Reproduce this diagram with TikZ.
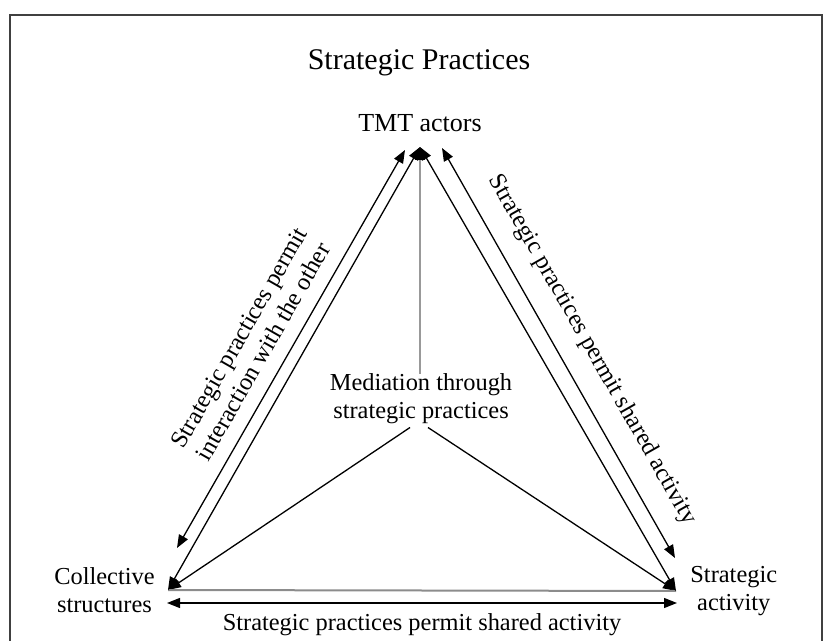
\documentclass[tikz,border=0pt]{standalone}
\usepackage{fontspec}
\setmainfont{Liberation Serif}
\usetikzlibrary{arrows.meta}
\usetikzlibrary{positioning}
\tikzstyle{frame}=[line width=0.75pt, black!75]
\tikzstyle{heading}=[font=\fontsize{15}{18}\selectfont, inner sep=0pt]
\tikzstyle{actor}=[font=\fontsize{12.2}{14}\selectfont, inner sep=0pt, align=center]
\tikzstyle{along label}=[actor, sloped]
\tikzstyle{link}=[line width=0.65pt, <->]
\tikzstyle{mediation link}=[line width=0.65pt, ->]
\tikzstyle{gray link}=[line width=1pt, black!40, -{Triangle[length=6.5pt, width=5pt, color=black]}]
\tikzstyle{base link}=[line width=1pt, black!45]

\begin{document}
\begin{tikzpicture}[x=0.5pt, y=-0.5pt, >={Triangle[length=6.5pt, width=5pt]}]
  \useasboundingbox (0,0) rectangle (830,641);
  \draw[frame] (10,15) rectangle (822,680);

  \coordinate (apex) at (420,147);
  \coordinate (left corner) at (168,590);
  \coordinate (right corner) at (676,591);
  \coordinate (left outer bottom) at (177,548);
  \coordinate (left outer top) at (405,150);
  \coordinate (right outer top) at (442,148);
  \coordinate (right outer bottom) at (675,558);
  \coordinate (base outer left) at (167,603);
  \coordinate (base outer right) at (677,603);

  \node[heading] (title) at (419,63) {Strategic Practices};
  \node[actor, font=\fontsize{13}{15}\selectfont, above=7.5pt of apex] (tmt) {TMT actors};
  \node[actor] (mediation) at (421,399) {Mediation through\\strategic practices};
  \node[actor, left=6.5pt of left corner] (collective) {Collective\\structures};
  \node[actor, right=7pt of right corner] (activity) {Strategic\\activity};

  \draw[gray link] (mediation.north -| apex) -- (apex);
  \draw[mediation link] ([shift={(-11,3)}]mediation.south) -- (left corner);
  \draw[mediation link] ([shift={(7,3)}]mediation.south) -- (right corner);
  \draw[base link] (left corner) -- (right corner);
  \draw[link] (apex) -- (left corner);
  \draw[link] (apex) -- (right corner);
  \draw[link] (left outer bottom)
    -- node[along label, above=7pt, pos=0.465] (interaction label) {Strategic practices permit\\interaction with the other}
    (left outer top);
  \draw[link] (right outer top)
    -- node[along label, above=9.5pt, pos=0.53] (shared label) {Strategic practices permit shared activity}
    (right outer bottom);
  \draw[link] (base outer left)
    -- node[actor, below=5pt] (base label) {Strategic practices permit shared activity}
    (base outer right);
\end{tikzpicture}
\end{document}
